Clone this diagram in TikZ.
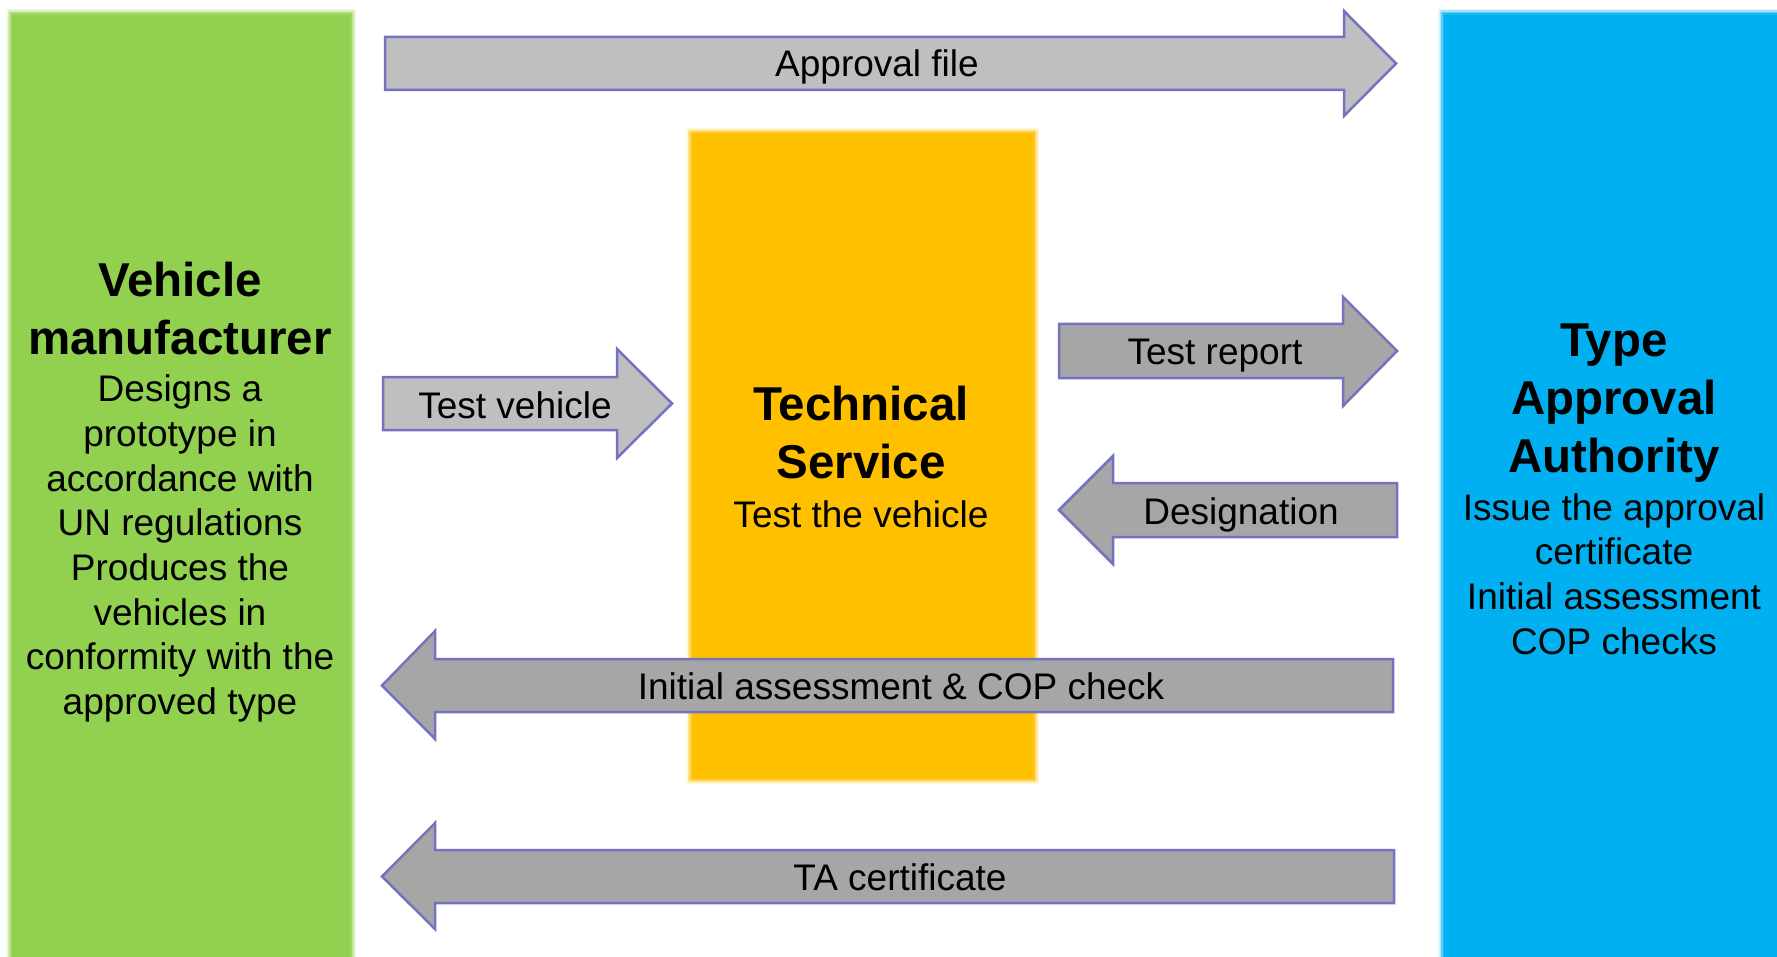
\documentclass[tikz,border=0pt]{standalone}
\usepackage{fontspec}
\setmainfont{Liberation Sans}
\usetikzlibrary{calc}

\definecolor{mfrgreen}{HTML}{92D050}
\definecolor{tsorange}{HTML}{FFC000}
\definecolor{taablue}{HTML}{00B0F0}
\definecolor{lightarrow}{HTML}{BFBFBF}
\definecolor{darkarrow}{HTML}{A6A6A6}
\definecolor{arrowedge}{HTML}{7373C2}

\tikzset{
  flowarrow/.style={draw=arrowedge, line width=2.5pt, line join=miter},
  arrowtext/.style={font=\fontsize{37}{45}\selectfont, text=black, inner sep=0pt, anchor=base},
  titletext/.style={font=\fontsize{47.5}{58}\selectfont\bfseries, align=center, inner sep=0pt},
  bodytext/.style={font=\fontsize{37}{44.7}\selectfont, align=center, inner sep=0pt},
}

% a colour block with softened edges
\newcommand\softblock[5]{%
  \foreach \d/\o in {5/0.12,3.5/0.25,2/0.45,0.5/0.65,-1/1}{%
    \fill[#1, opacity=\o] (#2-\d,#3-\d) rectangle (#4+\d,#5+\d);
  }%
}

\begin{document}
\begin{tikzpicture}[x=1pt, y=-1pt]
\useasboundingbox (0,0) rectangle (1777,957);
\fill[white] (0,0) rectangle (1777,957);

% the three parties
\softblock{mfrgreen}{11}{14}{351}{970}
\softblock{taablue}{1443}{14}{1790}{970}
\softblock{tsorange}{691}{133}{1034}{779}

% arrows to the right
\draw[flowarrow, fill=lightarrow]
  (385,37) -- (1344,37) -- (1344,11) -- (1396,63.5) -- (1344,116) -- (1344,90) -- (385,90) -- cycle;
\node[arrowtext] (approvalfile) at (877,77) {Approval file};

\draw[flowarrow, fill=lightarrow]
  (383,377) -- (617,377) -- (617,349) -- (672,403.5) -- (617,458) -- (617,430) -- (383,430) -- cycle;
\node[arrowtext] (testvehicle) at (515,418) {Test vehicle};

\draw[flowarrow, fill=darkarrow]
  (1059,324) -- (1343,324) -- (1343,297) -- (1397,351) -- (1343,406) -- (1343,378) -- (1059,378) -- cycle;
\node[arrowtext] (testreport) at (1215,365) {Test report};

% arrows to the left
\draw[flowarrow, fill=darkarrow]
  (1397,483) -- (1113,483) -- (1113,456) -- (1059,510) -- (1113,564) -- (1113,537) -- (1397,537) -- cycle;
\node[arrowtext] (designation) at (1241,524) {Designation};

\draw[flowarrow, fill=darkarrow]
  (1393,659) -- (435,659) -- (435,631) -- (382,685.5) -- (435,739) -- (435,712) -- (1393,712) -- cycle;
\node[arrowtext] (initialcop) at (901,699) {Initial assessment \& COP check};

\draw[flowarrow, fill=darkarrow]
  (1394,850) -- (435,850) -- (435,823) -- (382,876.5) -- (435,929) -- (435,903) -- (1394,903) -- cycle;
\node[arrowtext] (tacert) at (900,890) {TA certificate};

% party texts
\node[titletext] (mfrtitle) at (180,309) {Vehicle\\manufacturer};
\node[bodytext] (mfrbody) at (180,548.5) {Designs a\\prototype in\\accordance with\\UN regulations\\Produces the\\vehicles in\\conformity with the\\approved type};

\node[titletext] (tstitle) at (861,433) {Technical\\Service};
\node[bodytext] (tsbody) at (861,514) {Test the vehicle};

\node[titletext] (taatitle) at (1614,403.5) {Type\\Approval\\Authority};
\node[bodytext] (taabody) at (1614,574) {Issue the approval\\certificate\\Initial assessment\\COP checks};
\end{tikzpicture}
\end{document}
